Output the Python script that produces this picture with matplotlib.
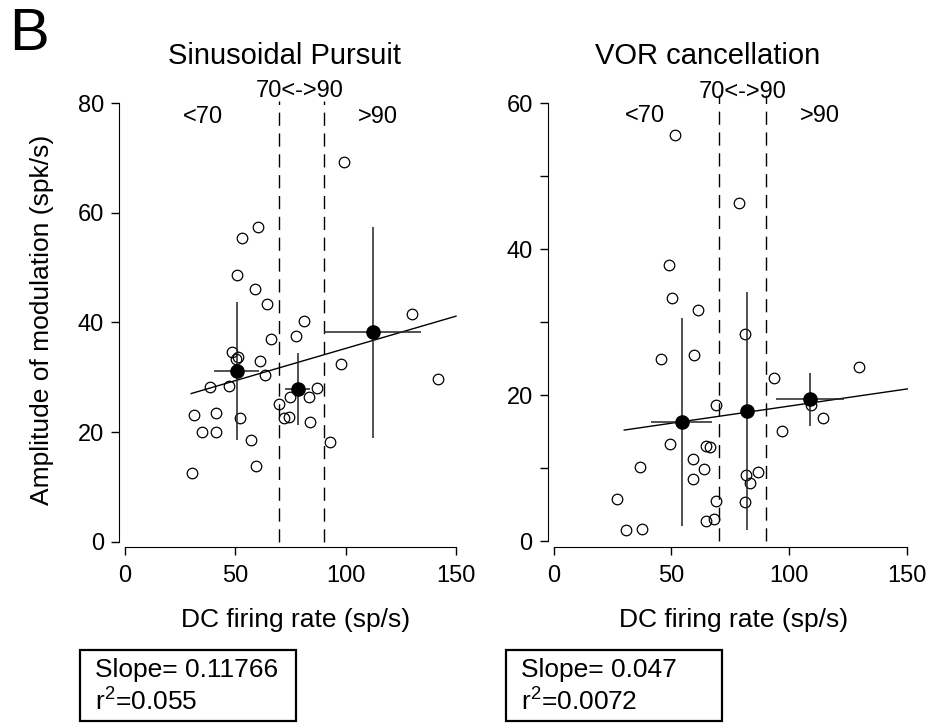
import matplotlib
matplotlib.use("Agg")
import matplotlib.pyplot as plt
import numpy as np
from matplotlib.patches import Rectangle
from matplotlib.ticker import MultipleLocator

plt.rcParams["font.family"] = ["Liberation Sans", "DejaVu Sans"]
plt.rcParams["mathtext.fontset"] = "custom"
plt.rcParams["mathtext.rm"] = "Liberation Sans"

# --- Sinusoidal pursuit: individual cells (DC rate, modulation amplitude) ---
sp_dc = [99.1, 60.4, 53.0, 50.7, 58.9, 64.4, 129.9, 81.0, 77.4, 66.1, 48.5, 51.3,
         50.4, 61.0, 97.7, 63.4, 141.8, 38.7, 47.0, 87.0, 74.7, 83.4, 70.0, 31.2,
         41.2, 51.9, 72.1, 74.2, 83.7, 34.9, 41.2, 57.2, 92.7, 59.2, 30.4]
sp_amp = [69.2, 57.4, 55.4, 48.6, 46.1, 43.4, 41.5, 40.3, 37.5, 36.9, 34.7, 33.7,
          33.4, 32.9, 32.5, 30.4, 29.7, 28.2, 28.4, 28.0, 26.4, 26.4, 25.2, 23.1,
          23.5, 22.6, 22.5, 22.8, 21.9, 20.1, 20.1, 18.5, 18.2, 13.8, 12.6]
# group means +- SD (<70, 70-90, >90)
sp_mean_dc = [50.6, 78.3, 112.3]
sp_mean_amp = [31.2, 27.9, 38.2]
sp_sd_dc = [10.3, 5.6, 22.0]
sp_sd_amp = [12.6, 6.6, 19.2]
sp_slope = 0.11766
sp_icpt = 23.5

# --- VOR cancellation ---
vc_dc = [51.5, 78.8, 49.0, 50.4, 61.4, 81.2, 45.6, 59.7, 129.5, 93.3, 69.1, 109.1,
         114.2, 96.8, 49.4, 64.8, 66.4, 59.2, 63.6, 36.7, 59.2, 81.7, 86.9, 83.5,
         26.8, 69.1, 81.4, 64.5, 68.1, 30.7, 37.5]
vc_amp = [55.7, 46.4, 37.8, 33.3, 31.6, 28.4, 24.9, 25.5, 23.8, 22.3, 18.6, 18.6,
          16.9, 15.1, 13.3, 13.0, 12.9, 11.2, 9.9, 10.1, 8.5, 9.1, 9.4, 7.9,
          5.8, 5.5, 5.3, 2.7, 3.0, 1.5, 1.7]
vc_mean_dc = [54.4, 82.2, 108.7]
vc_mean_amp = [16.3, 17.8, 19.4]
vc_sd_dc = [12.9, 1.5, 14.4]
vc_sd_amp = [14.3, 16.3, 3.6]
vc_slope = 0.047
vc_icpt = 13.8

fit_range = [30, 150]
bounds = [70, 90]
group_labels = ["<70", "70<->90", ">90"]

W, H = 934, 723


def px(x, y):
    return x / W, 1 - y / H


def draw_panel(ax, dc, amp, m_dc, m_amp, sd_dc, sd_amp, slope, icpt, ymax, ystep,
               label_pos, dash_top):
    ax.plot(dc, amp, "o", mfc="none", mec="black", mew=0.9, ms=7.6, clip_on=False)
    fx = np.array(fit_range, dtype=float)
    ax.plot(fx, icpt + slope * fx, "-", color="black", lw=1.0, clip_on=False)
    for b in bounds:
        ax.plot([b, b], [0, dash_top], color="black", lw=1.0,
                dashes=(9.5, 5.5), clip_on=False)
    ax.errorbar(m_dc, m_amp, xerr=sd_dc, yerr=sd_amp, fmt="o", color="black",
                ecolor="#222222", ms=9.5, elinewidth=1.1, capsize=0, clip_on=False,
                zorder=5)
    for lab, (lx, ly) in zip(group_labels, label_pos):
        ax.text(lx, ly, lab, ha="center", va="center", fontsize=17)

    ax.set_xlim(0, 150)
    ax.set_ylim(0, ymax)
    for side in ("top", "right"):
        ax.spines[side].set_visible(False)
    ax.spines["left"].set_position(("outward", 4))
    ax.spines["bottom"].set_position(("outward", 4))
    ax.spines["left"].set_bounds(0, ymax)
    ax.spines["bottom"].set_bounds(0, 150)
    ax.set_xticks([0, 50, 100, 150])
    ax.yaxis.set_major_locator(MultipleLocator(20))
    ax.yaxis.set_minor_locator(MultipleLocator(ystep))
    ax.tick_params(axis="both", which="both", direction="out", length=6,
                   width=1.0, labelsize=17)
    ax.tick_params(axis="x", pad=7)
    ax.tick_params(axis="y", pad=5)


fig = plt.figure(figsize=(W / 100, H / 100), dpi=100)
ax1 = fig.add_axes([125 / W, 0.2508, 331 / W, 0.6064])
ax2 = fig.add_axes([553.5 / W, 0.2517, 353.8 / W, 0.6054])

draw_panel(ax1, sp_dc, sp_amp, sp_mean_dc, sp_mean_amp, sp_sd_dc, sp_sd_amp,
           sp_slope, sp_icpt, 80, 20,
           [(35.3, 77.5), (79.3, 82.2), (114.4, 77.5)], 80.5)
draw_panel(ax2, vc_dc, vc_amp, vc_mean_dc, vc_mean_amp, vc_sd_dc, vc_sd_amp,
           vc_slope, vc_icpt, 60, 10,
           [(38.6, 58.2), (80.4, 61.6), (113.0, 58.2)], 61.1)

fig.text(*px(9, 50), "B", fontsize=43, ha="left", va="baseline")
fig.text(*px(285, 56), "Sinusoidal Pursuit", fontsize=21, ha="center", va="center")
fig.text(*px(708, 56), "VOR cancellation", fontsize=21, ha="center", va="center")
fig.text(*px(42, 320), "Amplitude of modulation (spk/s)", fontsize=19,
         rotation=90, ha="center", va="center")
fig.text(*px(296, 620), "DC firing rate (sp/s)", fontsize=19, ha="center", va="center")
fig.text(*px(734, 620), "DC firing rate (sp/s)", fontsize=19, ha="center", va="center")

# stats boxes
for x0, x1, slope_txt, r2_txt in ((80, 296, "Slope= 0.11766", "0.055"),
                                  (506, 722, "Slope= 0.047", "0.0072")):
    fx0, fy0 = px(x0, 721)
    fx1, fy1 = px(x1, 650)
    fig.patches.append(Rectangle((fx0, fy0), fx1 - fx0, fy1 - fy0,
                                 transform=fig.transFigure, fill=False,
                                 lw=1.6, ec="black"))
    fig.text(*px(x0 + 15, 670), slope_txt, fontsize=19, ha="left", va="center")
    fig.text(*px(x0 + 15, 701), r"r$^{2}$=" + r2_txt, fontsize=19, ha="left",
             va="center")

fig.savefig("out.png", dpi=100)
